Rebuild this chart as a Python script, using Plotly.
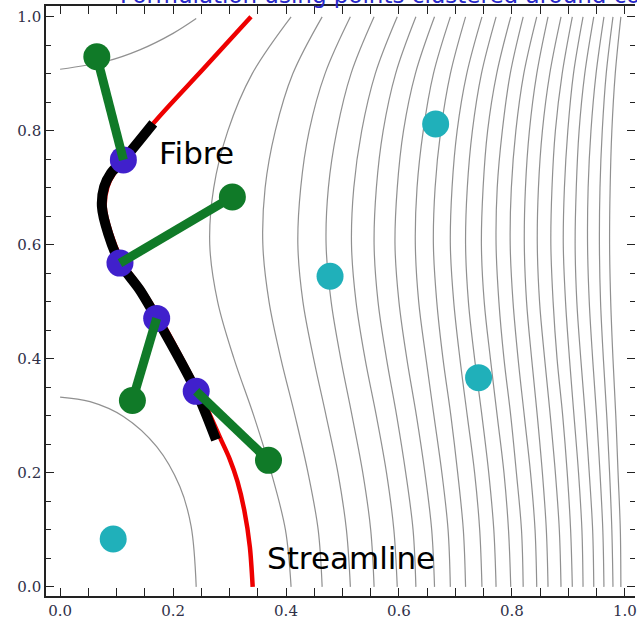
import plotly.graph_objects as go

# ---- contour lines (x positions read at fixed y levels) ----
contour_y = [0.0, 0.1, 0.2, 0.3, 0.4, 0.5, 0.6, 0.7, 0.8, 0.9, 1.0]
contour_x = [
    [0.409, 0.399, 0.374, 0.343, 0.308, 0.279, 0.265, 0.272, 0.297, 0.340, 0.409],
    [0.464, 0.457, 0.439, 0.416, 0.391, 0.370, 0.359, 0.363, 0.381, 0.412, 0.464],
    [0.514, 0.507, 0.492, 0.471, 0.449, 0.430, 0.421, 0.426, 0.441, 0.469, 0.514],
    [0.556, 0.550, 0.536, 0.517, 0.497, 0.480, 0.471, 0.475, 0.490, 0.515, 0.556],
    [0.597, 0.591, 0.578, 0.560, 0.540, 0.524, 0.516, 0.520, 0.534, 0.558, 0.597],
    [0.630, 0.625, 0.612, 0.596, 0.578, 0.563, 0.556, 0.560, 0.572, 0.594, 0.630],
    [0.663, 0.658, 0.646, 0.631, 0.614, 0.600, 0.593, 0.597, 0.608, 0.629, 0.663],
    [0.691, 0.687, 0.676, 0.662, 0.648, 0.635, 0.629, 0.632, 0.643, 0.661, 0.691],
    [0.718, 0.714, 0.704, 0.692, 0.678, 0.667, 0.661, 0.664, 0.674, 0.691, 0.718],
    [0.747, 0.743, 0.734, 0.721, 0.708, 0.697, 0.691, 0.694, 0.703, 0.720, 0.747],
    [0.772, 0.768, 0.759, 0.747, 0.734, 0.723, 0.718, 0.721, 0.730, 0.746, 0.772],
    [0.798, 0.794, 0.786, 0.774, 0.762, 0.751, 0.746, 0.749, 0.757, 0.773, 0.798],
    [0.820, 0.817, 0.808, 0.798, 0.786, 0.777, 0.772, 0.774, 0.783, 0.797, 0.820],
    [0.844, 0.841, 0.833, 0.822, 0.811, 0.802, 0.797, 0.799, 0.807, 0.821, 0.844],
    [0.864, 0.861, 0.854, 0.845, 0.835, 0.826, 0.822, 0.824, 0.831, 0.844, 0.864],
    [0.887, 0.884, 0.877, 0.868, 0.858, 0.849, 0.845, 0.847, 0.854, 0.867, 0.887],
    [0.907, 0.904, 0.898, 0.890, 0.880, 0.873, 0.869, 0.871, 0.877, 0.889, 0.907],
    [0.926, 0.924, 0.918, 0.910, 0.902, 0.895, 0.891, 0.893, 0.899, 0.909, 0.926],
    [0.945, 0.943, 0.937, 0.930, 0.922, 0.915, 0.912, 0.914, 0.919, 0.929, 0.945],
    [0.963, 0.961, 0.956, 0.950, 0.943, 0.937, 0.934, 0.935, 0.940, 0.949, 0.963],
    [0.979, 0.977, 0.973, 0.968, 0.962, 0.957, 0.955, 0.956, 0.960, 0.967, 0.979],
    [0.993, 0.992, 0.988, 0.984, 0.979, 0.975, 0.973, 0.974, 0.977, 0.983, 0.993],
]
arc_top_x = [0.0, 0.082, 0.141, 0.200, 0.241]
arc_top_y = [0.908, 0.922, 0.942, 0.971, 0.997]
arc_bot_x = [0.0, 0.053, 0.112, 0.171, 0.212, 0.232, 0.241]
arc_bot_y = [0.333, 0.325, 0.299, 0.246, 0.176, 0.106, 0.0]

# ---- streamline and fibre ----
stream_x = [0.341, 0.336, 0.326, 0.314, 0.300, 0.285, 0.266, 0.246, 0.177, 0.146, 0.112,
            0.090, 0.079, 0.084, 0.096, 0.117, 0.165, 0.253, 0.338]
stream_y = [0.0, 0.070, 0.135, 0.185, 0.225, 0.258, 0.300, 0.343, 0.471, 0.521, 0.568,
            0.620, 0.667, 0.702, 0.726, 0.749, 0.813, 0.908, 1.0]
fibre_x = [0.276, 0.241, 0.171, 0.141, 0.106, 0.085, 0.074, 0.078, 0.090, 0.112, 0.165]
fibre_y = [0.258, 0.343, 0.471, 0.521, 0.568, 0.620, 0.667, 0.702, 0.726, 0.749, 0.813]

# ---- points ----
node_x = [0.112, 0.106, 0.171, 0.241]
node_y = [0.749, 0.568, 0.471, 0.343]
end_x = [0.065, 0.305, 0.128, 0.369]
end_y = [0.930, 0.684, 0.327, 0.222]
cyan_x = [0.094, 0.478, 0.665, 0.741]
cyan_y = [0.084, 0.545, 0.812, 0.367]

title_text = "Formulation using points clustered around collocation points"

GRAY = "rgba(125,125,125,0.85)"
fig = go.Figure()
for cx in contour_x:
    fig.add_trace(go.Scatter(x=cx, y=contour_y, mode="lines",
                             line=dict(color=GRAY, width=1.2, shape="spline", smoothing=1.0),
                             hoverinfo="skip", showlegend=False))
fig.add_trace(go.Scatter(x=arc_top_x, y=arc_top_y, mode="lines",
                         line=dict(color=GRAY, width=1.2, shape="spline"), showlegend=False))
fig.add_trace(go.Scatter(x=arc_bot_x, y=arc_bot_y, mode="lines",
                         line=dict(color=GRAY, width=1.2, shape="spline"), showlegend=False))

fig.add_trace(go.Scatter(x=stream_x, y=stream_y, mode="lines",
                         line=dict(color="#ee0000", width=4.5, shape="spline", smoothing=0.8),
                         showlegend=False))
fig.add_trace(go.Scatter(x=fibre_x, y=fibre_y, mode="lines",
                         line=dict(color="#000000", width=10, shape="spline", smoothing=0.8),
                         showlegend=False))
fig.add_trace(go.Scatter(x=cyan_x, y=cyan_y, mode="markers",
                         marker=dict(color="#20b0ba", size=27, line=dict(width=0)),
                         showlegend=False))
fig.add_trace(go.Scatter(x=node_x, y=node_y, mode="markers",
                         marker=dict(color="#4020cc", size=27, line=dict(width=0)),
                         showlegend=False))
for i in range(len(node_x)):
    fig.add_trace(go.Scatter(x=[node_x[i], end_x[i]], y=[node_y[i], end_y[i]], mode="lines",
                             line=dict(color="#107a28", width=9), showlegend=False))
fig.add_trace(go.Scatter(x=end_x, y=end_y, mode="markers",
                         marker=dict(color="#107a28", size=27, line=dict(width=0)),
                         showlegend=False))
# invisible trace for right-hand tick axis
fig.add_trace(go.Scatter(x=[0.5], y=[0.5], yaxis="y2", mode="markers",
                         marker=dict(opacity=0), hoverinfo="skip", showlegend=False))

fig.add_annotation(x=0.172, y=0.761, xref="x", yref="y", text="Fibre", showarrow=False,
                   xanchor="left", yanchor="middle",
                   font=dict(family="DejaVu Sans", size=31, color="#000000"))
fig.add_annotation(x=0.363, y=0.051, xref="x", yref="y", text="Streamline", showarrow=False,
                   xanchor="left", yanchor="middle",
                   font=dict(family="DejaVu Sans", size=31, color="#000000"))
fig.add_annotation(x=0.1218, y=1.0, xref="paper", yref="paper", text=title_text,
                   showarrow=False, xanchor="left", yanchor="bottom", yshift=-4,
                   font=dict(family="DejaVu Sans", size=23, color="#2828c8"))

tickfont = dict(family="DejaVu Serif", size=15, color="#303048")
axis_common = dict(showgrid=False, zeroline=False, ticks="inside", ticklen=8, tickwidth=1.3,
                   tickcolor="#222222", dtick=0.2, tick0=0, tickformat=".1f",
                   minor=dict(ticks="inside", ticklen=5, tickwidth=1.2, tickcolor="#222222", dtick=0.05, tick0=0),
                   tickfont=tickfont)
fig.update_layout(
    width=637, height=624,
    margin=dict(l=46, r=0, t=6, b=28),
    paper_bgcolor="white", plot_bgcolor="white",
    xaxis=dict(range=[-0.025, 1.018], showline=True, linecolor="#222222", linewidth=1.6,
               mirror="allticks", ticklabeloverflow="allow", **axis_common),
    yaxis=dict(range=[-0.016, 1.019], showline=True, linecolor="#222222", linewidth=1.6,
               mirror=False, **axis_common),
    yaxis2=dict(range=[-0.016, 1.019], overlaying="y", side="right", anchor="x",
                showline=False, showticklabels=False, **{k: v for k, v in axis_common.items() if k != "tickfont"}),
)
fig.write_html("out.html")
